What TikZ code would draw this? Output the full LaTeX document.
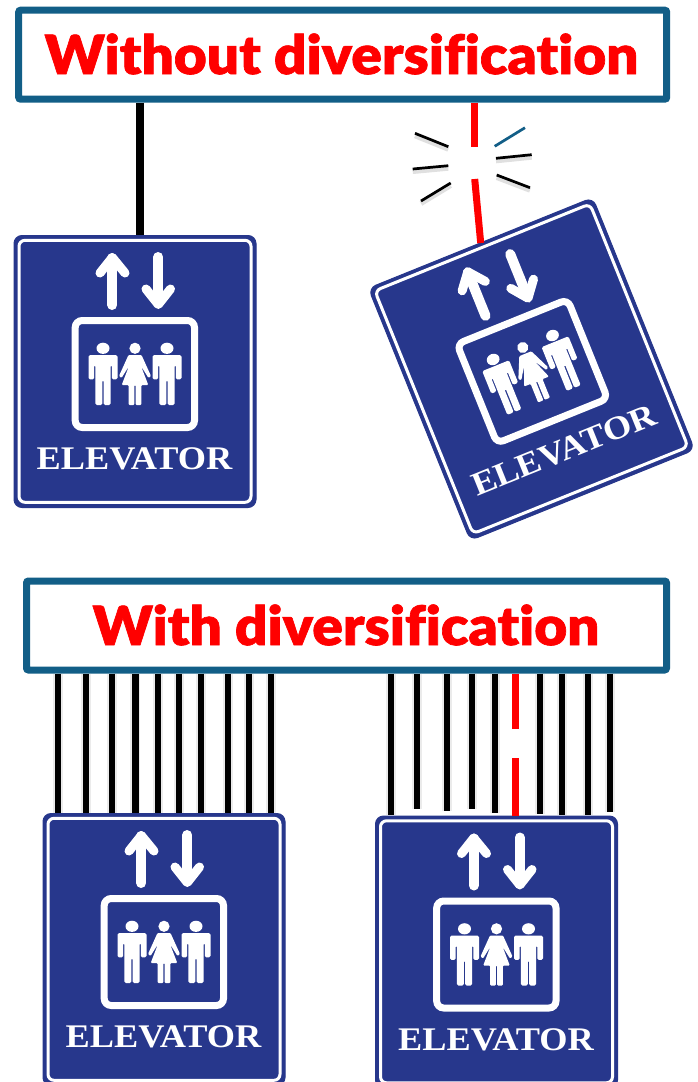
\documentclass[tikz,border=0pt]{standalone}
\usepackage{fontspec}
\setmainfont{Lato}
\newfontfamily\titlefont[Ligatures=NoCommon,FakeBold=1.2]{Lato Black}
\newfontfamily\signfont{Liberation Serif}
\definecolor{signblue}{HTML}{27378C}
\definecolor{headblue}{HTML}{125E87}
\definecolor{titlered}{HTML}{FF0000}
\tikzset{
  header/.style={draw=headblue,line width=7pt,fill=white,rounded corners=2pt,minimum height=89pt},
  headertext/.style={inner sep=0pt,text=titlered,xscale=1.05,transform shape,font=\titlefont\fontsize{54}{54}\selectfont},
  signbox/.style={fill=signblue,draw=signblue,line width=1pt,rounded corners=8pt,minimum width=242pt,minimum height=272pt,inner sep=0pt},
  cable/.style={line width=6pt,black,preaction={draw=black!8,line width=10pt}},
  redcable/.style={line width=7pt,titlered},
  spark/.style={line width=2.7pt,black,preaction={draw=black!12,line width=5pt,transform canvas={yshift=-2.5pt}}},
  sparkteal/.style={line width=2.7pt,headblue},
  signglyph/.style={white,line width=10pt,line cap=round,line join=round},
  signhead/.style={white,line width=9pt,line cap=round,line join=round},
  signlabel/.style={white,inner sep=0pt,xscale=1.1,transform shape,font=\signfont\bfseries\fontsize{33}{33}\selectfont}
}
\newcommand{\manfig}[1]{%
  \fill[white] (#1,348.3) ellipse (6.5 and 5.6);
  \begin{scope}[xshift=#1pt]
    \fill[white,rounded corners=1.5pt] (-14.5,379.3)--(-14.5,355)--(14.5,355)--(14.5,379.3)--(8.8,379.3)--(8.8,365)--(7.6,365)--(7.6,405)--(0.7,405)--(0.7,380)--(-0.7,380)--(-0.7,405)--(-7.6,405)--(-7.6,365)--(-8.8,365)--(-8.8,379.3)--cycle;
  \end{scope}}
\newcommand{\womanfig}[1]{%
  \fill[white] (#1,348.3) circle (5.6);
  \begin{scope}[xshift=#1pt]
    \fill[white,rounded corners=1pt] (-6.5,355)--(6.5,355)--(16,376)--(13.5,378)--(6,366)--(13.3,385)--(6.4,385)--(6.4,405)--(0.7,405)--(0.7,385)--(-0.7,385)--(-0.7,405)--(-6.4,405)--(-6.4,385)--(-13.3,385)--(-6,366)--(-13.5,378)--(-16,376)--cycle;
  \end{scope}}
% name, cx, cy, rotation
\newcommand{\elevatorsign}[4]{%
  \node[signbox,rotate=#4] (#1) at (#2,#3) {};
  \begin{scope}[shift={(#2,#3)},rotate=#4,shift={(-135,-371.5)}]
    \draw[white,line width=3pt,rounded corners=6pt] (19,240.3) rectangle (251,502.3);
    \draw[signglyph] (112.3,305)--(112.3,258);
    \draw[signhead] (100,273)--(112.3,257.5)--(125,273);
    \draw[signglyph] (158.3,257)--(158.3,303);
    \draw[signhead] (146,289)--(158.3,304.5)--(170.5,289);
    \draw[white,line width=7pt,rounded corners=7pt] (75.2,320.5) rectangle (194.5,427.5);
    \manfig{103}\womanfig{135}\manfig{167}
    \node[signlabel] (#1t) at (134.5,459) {ELEVATOR};
  \end{scope}}
\begin{document}
\begin{tikzpicture}[x=1pt,y=-1pt]
\useasboundingbox (0,0) rectangle (697,1082);
\clip (0,0) rectangle (697,1082);
\fill[white] (0,0) rectangle (697,1082);
% headers
\node[header,minimum width=648pt] (h1) at (342.7,54.7) {};
\node[headertext] (h1t) at (341.5,54) {Without diversification};
\node[header,minimum width=640pt] (h2) at (346.5,625.5) {};
\node[headertext] (h2t) at (346,625) {With diversification};
% signs
\elevatorsign{s1}{135}{371.5}{0}
\elevatorsign{s2}{531.5}{369}{22}
\elevatorsign{s3}{164}{949.5}{0}
\elevatorsign{s4}{496.5}{952}{0}
% top cables
\draw[line width=7.3pt,black] (140,0 |- h1.south) -- (140,0 |- s1.north);
\coordinate (ba) at (474.3,147.3);
\coordinate (bb) at (474.7,179);
\coordinate (bc) at (480.7,243);
\draw[redcable] (474.3,0 |- h1.south) -- (ba);
\draw[redcable] (bb) -- (bc);
% sparks
\draw[spark] (415,133.3)--(448.3,146.7);
\draw[spark] (412.7,169)--(448.3,165.7);
\draw[spark] (421,201)--(450.7,183);
\draw[sparkteal] (494.7,146.3)--(525,127.7);
\draw[spark] (496,158.3)--(531.7,154.7);
\draw[spark] (496.7,175)--(530,187.7);
% left bottom bundle
\foreach \x in {57.7,85.7,112.3,158.3,179,201.3,227.7,248.7,270.7}
  \draw[cable] (\x,0 |- h2.south) -- (\x,0 |- s3.north);
\draw[cable,line width=7.5pt] (135.3,0 |- h2.south) -- (135.3,0 |- s3.north);
% right bottom bundle
\foreach \x/\e in {391.3/815,417.3/809,446.7/810.7,472/809,494.7/812.7,540/813.7,562.3/815,587.7/815,609.7/812}
  \draw[cable] (\x,0 |- h2.south) -- (\x,\e);
\coordinate (bd) at (515.7,729);
\coordinate (be) at (515.7,758);
\draw[redcable] (515.7,0 |- h2.south) -- (bd);
\draw[redcable] (be) -- (515.7,0 |- s4.north);
\end{tikzpicture}
\end{document}
